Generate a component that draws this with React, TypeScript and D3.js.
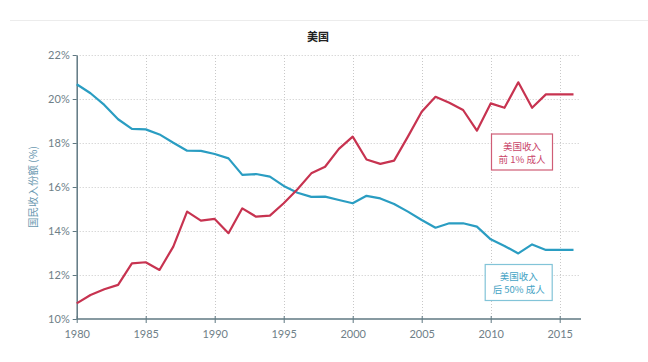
import React, { useEffect, useRef } from 'react';
import * as d3 from 'd3';

const years: number[] = d3.range(1980, 2017);

const top1: number[] = [
  10.71, 11.09, 11.35, 11.55, 12.53, 12.58, 12.23, 13.29, 14.88, 14.47,
  14.55, 13.9, 15.03, 14.65, 14.7, 15.26, 15.9, 16.62, 16.92, 17.73,
  18.29, 17.25, 17.05, 17.2, 18.29, 19.42, 20.1, 19.83, 19.5, 18.56,
  19.8, 19.6, 20.76, 19.6, 20.21, 20.21, 20.21,
];

const bottom50: number[] = [
  20.67, 20.26, 19.73, 19.08, 18.64, 18.62, 18.39, 18.01, 17.65, 17.64,
  17.5, 17.3, 16.55, 16.59, 16.47, 16.05, 15.74, 15.55, 15.56, 15.41,
  15.26, 15.6, 15.48, 15.23, 14.88, 14.5, 14.15, 14.35, 14.35, 14.2,
  13.62, 13.32, 12.98, 13.39, 13.14, 13.14, 13.14,
];

const yTicks: number[] = [10, 12, 14, 16, 18, 20, 22];
const xTicks: number[] = [1980, 1985, 1990, 1995, 2000, 2005, 2010, 2015];

const title = '美国';
const yLabel = '国民收入份额 (%)';
const topLabel = ['美国收入', '前 1% 成人'];
const bottomLabel = ['美国收入', '后 50% 成人'];

const RED = '#c73350';
const BLUE = '#2a9dc2';

const Chart: React.FC = () => {
  const svgRef: any = useRef<SVGSVGElement>(null);

  useEffect(() => {
    const svg = d3.select(svgRef.current);
    svg.selectAll('*').remove();

    const x = d3.scaleLinear().domain([1980, 2016]).range([76.7, 573.5]);
    const y = d3.scaleLinear().domain([10, 22]).range([319, 55]);
    const font = 'Lato, "Noto Sans CJK SC", sans-serif';
    const cjk = '"Noto Sans CJK SC", sans-serif';

    // top separator
    svg.append('line')
      .attr('x1', 10).attr('x2', 648).attr('y1', 20.5).attr('y2', 20.5)
      .attr('stroke', '#ececec');

    svg.append('text')
      .attr('x', 318).attr('y', 41)
      .attr('text-anchor', 'middle')
      .attr('font-family', cjk)
      .attr('font-size', 11).attr('font-weight', 'bold')
      .attr('fill', '#222')
      .text(title);

    // grid
    const grid = svg.append('g');
    grid.selectAll('.hg')
      .data(yTicks.slice(1))
      .join('line')
      .attr('x1', x(1980)).attr('x2', 580)
      .attr('y1', d => Math.round(y(d)) + 0.5).attr('y2', d => Math.round(y(d)) + 0.5)
      .attr('stroke', '#c8c8c8').attr('stroke-dasharray', '1,2');
    grid.selectAll('.vg')
      .data(xTicks.slice(1))
      .join('line')
      .attr('x1', d => Math.round(x(d)) + 0.5).attr('x2', d => Math.round(x(d)) + 0.5)
      .attr('y1', y(22)).attr('y2', y(10))
      .attr('stroke', '#c8c8c8').attr('stroke-dasharray', '1,2');

    // axes
    const xAxis = svg.append('g')
      .attr('transform', `translate(0,${y(10)})`)
      .call(d3.axisBottom(x).tickValues(xTicks).tickFormat(d3.format('d')).tickSize(4).tickSizeOuter(0));
    xAxis.select('.domain').remove();
    xAxis.append('line')
      .attr('x1', x(1980)).attr('x2', 581).attr('y1', 0).attr('y2', 0)
      .attr('stroke', '#5f7882').attr('stroke-width', 1.5);
    xAxis.selectAll('.tick line').attr('stroke', '#5f7882').attr('y1', -3);
    xAxis.selectAll('.tick text')
      .attr('font-family', font).attr('font-size', 11).attr('fill', '#6f8088').attr('dy', '1.05em');

    const yAxis = svg.append('g')
      .attr('transform', `translate(${x(1980)},0)`)
      .call(d3.axisLeft(y).tickValues(yTicks).tickFormat(d => `${d}%`).tickSize(4).tickSizeOuter(0));
    yAxis.select('.domain').attr('stroke', '#5f7882').attr('stroke-width', 1.5);
    yAxis.selectAll('.tick line').attr('stroke', '#5f7882');
    yAxis.selectAll('.tick text')
      .attr('font-family', font).attr('font-size', 11).attr('fill', '#6f8088').attr('x', -7);

    svg.append('text')
      .attr('transform', `translate(37,${y(16)}) rotate(-90)`)
      .attr('text-anchor', 'middle')
      .attr('font-family', cjk)
      .attr('font-size', 10.5).attr('fill', '#6a98b0')
      .text(yLabel);

    const line = d3.line<number>()
      .x((_, i) => x(years[i]))
      .y(d => y(d));

    svg.append('path').datum(bottom50)
      .attr('d', line).attr('fill', 'none')
      .attr('stroke', BLUE).attr('stroke-width', 2.2).attr('stroke-linejoin', 'round');
    svg.append('path').datum(top1)
      .attr('d', line).attr('fill', 'none')
      .attr('stroke', RED).attr('stroke-width', 2.2).attr('stroke-linejoin', 'round');

    const label = (lines: string[], cx: number, top: number, w: number, stroke: string, fill: string) => {
      const g = svg.append('g');
      g.append('rect')
        .attr('x', cx - w / 2).attr('y', top).attr('width', w).attr('height', 36)
        .attr('fill', '#fff').attr('stroke', stroke).attr('stroke-width', 1.2);
      g.selectAll('text').data(lines).join('text')
        .attr('x', cx).attr('y', (_, i) => top + 15.5 + i * 13)
        .attr('text-anchor', 'middle')
        .attr('font-family', cjk)
        .attr('font-size', 9.5).attr('fill', fill)
        .text(d => d);
    };
    label(topLabel, 522, 134, 61, '#cf5d76', '#c9466a');
    label(bottomLabel, 518.7, 264.5, 67, '#82c4d8', '#45a3c4');
  }, []);

  return <svg ref={svgRef} width={648} height={362} style={{ position: 'absolute', left: 0, top: 0 }}></svg>;
};

const App = () => {
  return (
    <div style={{ width: 648, height: 362 }}>
      <Chart />
    </div>
  );
};

export default App;
